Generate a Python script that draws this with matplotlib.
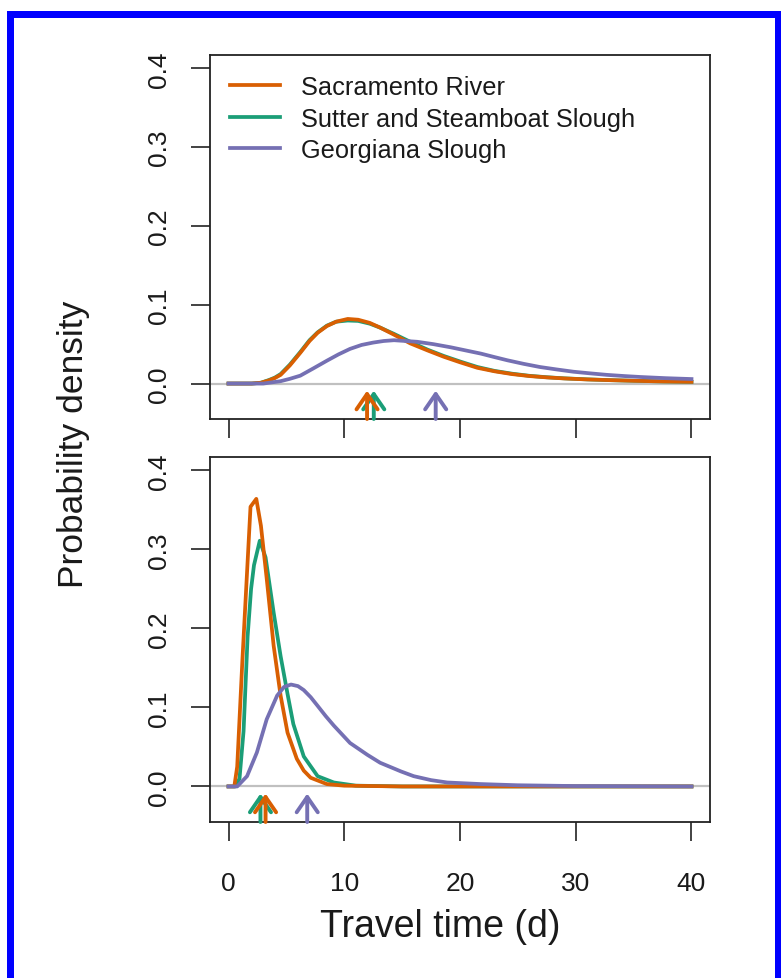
import matplotlib
matplotlib.use("Agg")
import matplotlib.pyplot as plt
from matplotlib.patches import Rectangle
from matplotlib.lines import Line2D

plt.rcParams['font.family'] = ['Liberation Sans', 'DejaVu Sans']

# ---------------- data ----------------
series_names = ["Sacramento River", "Sutter and Steamboat Slough", "Georgiana Slough"]
colors = ["#D95F02", "#1B9E77", "#7570B3"]

# top panel
top_sac_x = [0, 2, 2.8, 3.5, 4.0, 4.5, 5.3, 6.2, 7.0, 7.7, 8.5, 9.3, 10.3, 11.2, 12.2, 13.1, 14.3, 15.7,
             17.2, 18.6, 20, 21.5, 23, 24.5, 26, 27.5, 29, 31, 33, 35, 37.5, 40]
top_sac_y = [0, 0, 0.001, 0.004, 0.007, 0.011, 0.023, 0.039, 0.054, 0.0645, 0.073, 0.0785, 0.082, 0.081,
             0.077, 0.071, 0.062, 0.051, 0.042, 0.034, 0.027, 0.020, 0.0155, 0.012, 0.0095, 0.0078,
             0.0065, 0.0052, 0.0043, 0.0035, 0.0027, 0.0022]
top_sut_x = top_sac_x
top_sut_y = [0, 0, 0.001, 0.0045, 0.0075, 0.012, 0.024, 0.040, 0.055, 0.065, 0.0735, 0.0785, 0.080,
             0.0795, 0.076, 0.071, 0.063, 0.053, 0.043, 0.035, 0.028, 0.021, 0.016, 0.0125, 0.0098,
             0.008, 0.0066, 0.0053, 0.0043, 0.0035, 0.0027, 0.0021]
top_geo_x = [0, 3, 4.5, 5.3, 6.2, 7.3, 8.5, 9.5, 10.5, 11.5, 12.5, 13.4, 14.3, 15.3, 16.3, 17.7, 19.2,
             20.5, 21.8, 23, 24.1, 25.5, 26.9, 28.3, 29.8, 31.2, 32.7, 34.2, 35.6, 37.8, 40]
top_geo_y = [0, 0, 0.003, 0.006, 0.010, 0.019, 0.029, 0.037, 0.044, 0.049, 0.052, 0.054, 0.055, 0.054,
             0.053, 0.050, 0.046, 0.042, 0.038, 0.0335, 0.0295, 0.025, 0.021, 0.018, 0.015, 0.013,
             0.011, 0.0095, 0.0083, 0.0068, 0.0057]

# bottom panel
bot_sac_x = [0, 0.5, 0.75, 1.2, 1.9, 2.4, 2.8, 3.3, 3.9, 4.5, 5.1, 5.9, 6.5, 7.1, 8.5, 10, 15, 20, 30, 40]
bot_sac_y = [0, 0, 0.025, 0.16, 0.354, 0.364, 0.33, 0.263, 0.178, 0.115, 0.068, 0.035, 0.02, 0.011,
             0.003, 0.001, 0, 0, 0, 0]
bot_sut_x = [0, 0.6, 0.95, 1.3, 1.65, 1.95, 2.2, 2.7, 3.2, 3.9, 4.5, 5.1, 5.6, 6.5, 7.7, 9.1, 11, 15,
             20, 30, 40]
bot_sut_y = [0, 0, 0.01, 0.07, 0.19, 0.25, 0.28, 0.311, 0.29, 0.22, 0.165, 0.117, 0.079, 0.038, 0.013,
             0.005, 0.001, 0, 0, 0, 0]
bot_geo_x = [0, 0.75, 1.6, 2.45, 3.3, 4.2, 4.8, 5.4, 6.0, 6.5, 7.1, 7.7, 8.4, 9.1, 10.5, 12, 13.1, 14.9,
             16, 17.5, 18.9, 21.8, 25, 30, 40]
bot_geo_y = [0, 0, 0.013, 0.043, 0.085, 0.115, 0.126, 0.129, 0.127, 0.122, 0.113, 0.102, 0.089, 0.077,
             0.055, 0.040, 0.030, 0.019, 0.013, 0.008, 0.005, 0.003, 0.0015, 0.0005, 0]

# arrow positions (mean travel times), order: Sacramento, Sutter, Georgiana
top_arrows = [11.97, 12.55, 17.9]
bot_arrows = [3.2, 2.76, 6.8]

x_ticks = [0, 10, 20, 30, 40]
y_ticks = [0.0, 0.1, 0.2, 0.3, 0.4]
y_ticklabels = ["0.0", "0.1", "0.2", "0.3", "0.4"]

# ---------------- figure ----------------
W, H = 781, 979
fig = plt.figure(figsize=(W / 100, H / 100), dpi=100)

def px_axes(l, t, r, b):
    return fig.add_axes([l / W, 1 - b / H, (r - l) / W, (b - t) / H])

ax1 = px_axes(210, 56, 710, 420)
ax2 = px_axes(210, 458, 710, 823)

XLIM = (-1.6, 41.6)
YLIM = (-0.045, 0.417)

panels = [
    (ax1, [(top_sut_x, top_sut_y), (top_sac_x, top_sac_y), (top_geo_x, top_geo_y)], top_arrows),
    (ax2, [(bot_sut_x, bot_sut_y), (bot_sac_x, bot_sac_y), (bot_geo_x, bot_geo_y)], bot_arrows),
]
draw_order = [1, 0, 2]

for ax, curves, arrows in panels:
    ax.set_xlim(*XLIM)
    ax.set_ylim(*YLIM)
    ax.axhline(0, color="#c0c0c0", lw=1.6, zorder=1)
    for (cx, cy), ci in zip(curves, draw_order):
        ax.plot(cx, cy, color=colors[ci], lw=2.7, solid_joinstyle='round', zorder=3)
    for ai in [1, 0, 2]:
        ax.annotate("", xy=(arrows[ai], -0.009), xytext=(arrows[ai], YLIM[0]),
                    xycoords='data', textcoords='data',
                    arrowprops=dict(arrowstyle="->,head_length=0.55,head_width=0.38",
                                    color=colors[ai], lw=2.8, shrinkA=0, shrinkB=0,
                                    mutation_scale=20), annotation_clip=False, zorder=4)
    ax.set_xticks(x_ticks)
    ax.set_yticks(y_ticks)
    ax.set_yticklabels(y_ticklabels)
    ax.tick_params(axis='both', length=14, width=1.2, colors='#222222', labelsize=19,
                   labelcolor='#1a1a1a')
    ax.tick_params(axis='y', labelrotation=90, pad=14)
    ax.tick_params(axis='x', pad=21)
    for lab in ax.get_yticklabels():
        lab.set_va('center')
    for sp in ax.spines.values():
        sp.set_linewidth(1.3)
        sp.set_color('#222222')

ax1.tick_params(axis='x', labelbottom=False)

# legend
handles = [Line2D([0], [0], color=colors[i], lw=2.7) for i in range(3)]
ax1.legend(handles, series_names, loc='upper left', bbox_to_anchor=(20 / 500, 1 - 20 / 364),
           frameon=False, fontsize=18.3, borderaxespad=0, borderpad=0, handlelength=1.95,
           handletextpad=0.85, labelspacing=0.3, labelcolor='#1a1a1a')

fig.text(73 / W, 1 - 444 / H, "Probability density", rotation=90, ha='center', va='center',
         fontsize=25.5, color='#1a1a1a')
fig.text(440 / W, 1 - 927 / H, "Travel time (d)", ha='center', va='center', fontsize=27,
         color='#1a1a1a')

# blue border
blue = "#0000ff"
for (x0, y0, x1, y1) in [(7, 12, 14, H), (7, 12, W, 19), (775, 12, W, H)]:
    fig.add_artist(Rectangle((x0 / W, 1 - y1 / H), (x1 - x0) / W, (y1 - y0) / H,
                             transform=fig.transFigure, color=blue, lw=0))

fig.savefig("out.png", dpi=100)
